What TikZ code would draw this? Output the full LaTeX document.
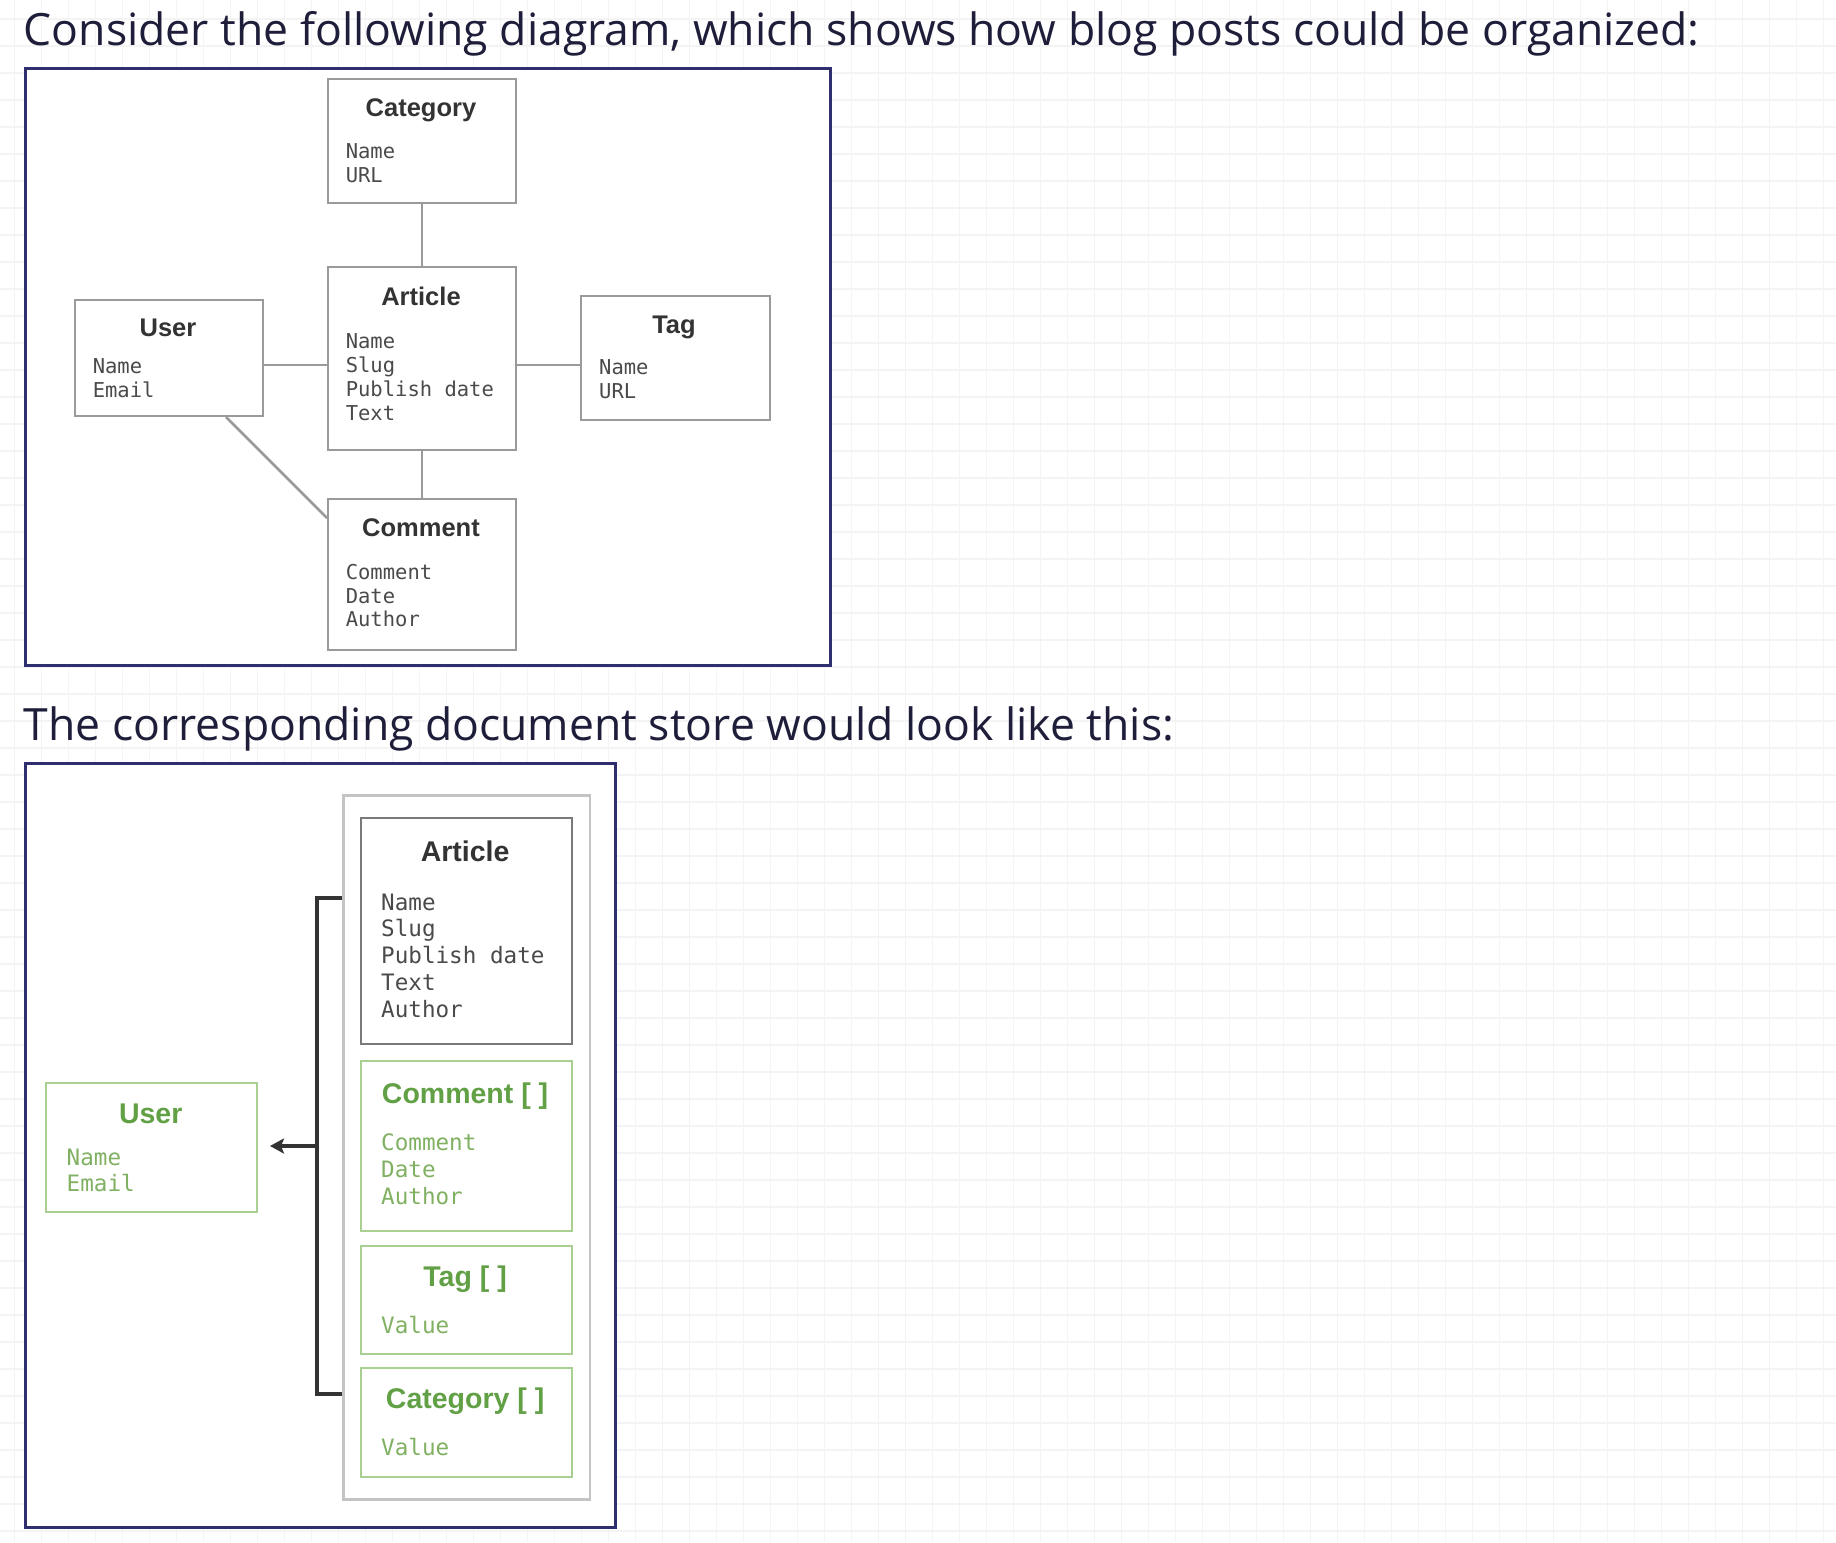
\documentclass[tikz,border=0pt]{standalone}
\usepackage{fontspec}
\setmainfont{Open Sans}
\newfontfamily\headfont{Open Sans}
\newfontfamily\boxfont{Liberation Sans}
\newfontfamily\fieldfont{DejaVu Sans Mono}
\usetikzlibrary{arrows.meta}
\definecolor{navy}{HTML}{2F2E6E}
\definecolor{headtext}{HTML}{1E1D3A}
\definecolor{erline}{HTML}{9A9A9A}
\definecolor{erline2}{HTML}{7A7A7A}
\definecolor{ertitlec}{HTML}{333333}
\definecolor{erfieldc}{HTML}{4A4A4A}
\definecolor{gtitle}{HTML}{62A045}
\definecolor{gfield}{HTML}{80B062}
\definecolor{gline}{HTML}{A9D090}
\definecolor{contline}{HTML}{C4C4C4}
\definecolor{gridc}{HTML}{F4F4F4}
\definecolor{bracketc}{HTML}{333333}
\begin{document}
\begin{tikzpicture}[x=1pt,y=-1pt,
  heading/.style={font=\headfont\fontsize{44.5}{50}\selectfont, text=headtext, anchor=base west, inner sep=0pt},
  frame/.style={draw=navy, line width=3pt, fill=white, anchor=north west, inner sep=0pt},
  erbox/.style={draw=erline, line width=2pt, fill=white, anchor=north west, inner sep=0pt},
  erlink/.style={draw=erline, line width=2.5pt},
  ertitle/.style={font=\boxfont\bfseries\fontsize{25.5}{30}\selectfont, text=ertitlec, anchor=base, inner sep=0pt},
  erfield/.style={font=\fieldfont\fontsize{20.5}{24}\selectfont, text=erfieldc, anchor=base west, inner sep=0pt},
  contbox/.style={draw=contline, line width=2.5pt, fill=white, anchor=north west, inner sep=0pt},
  docbox/.style={draw=erline2, line width=2pt, fill=white, anchor=north west, inner sep=0pt},
  gbox/.style={draw=gline, line width=2pt, fill=white, anchor=north west, inner sep=0pt},
  doctitle/.style={font=\boxfont\bfseries\fontsize{28.5}{34}\selectfont, text=ertitlec, anchor=base, inner sep=0pt},
  docfield/.style={font=\fieldfont\fontsize{22.6}{26}\selectfont, text=erfieldc, anchor=base west, inner sep=0pt},
  gtitlest/.style={doctitle, text=gtitle},
  gfieldst/.style={docfield, text=gfield},
  bracket/.style={draw=bracketc, line width=4pt},
]
\useasboundingbox (0,0) rectangle (1836,1542);
\fill[white] (0,0) rectangle (1836,1542);
% background grid
\foreach \i in {0,...,67} \draw[gridc, line width=1.2pt] ({14.3+27*\i},0) -- ({14.3+27*\i},1542);
\foreach \j in {0,...,57} \draw[gridc, line width=1.2pt] (0,{19+27*\j}) -- (1836,{19+27*\j});

% headings
\node[heading] (h1) at (23.7,45) {Consider the following diagram, which shows how blog posts could be organized:};
\node[heading] (h2) at (23.7,740.7) {The corresponding document store would look like this:};

% ===== top diagram =====
\node[frame, minimum width=805pt, minimum height=596.5pt] (frame1) at (23.5,67) {};

\node[erbox, minimum width=188pt, minimum height=124pt] (cat) at (327,78) {};
\node[erbox, minimum width=188pt, minimum height=183pt] (art) at (327,266) {};
\node[erbox, minimum width=188pt, minimum height=116pt] (user) at (74,299) {};
\node[erbox, minimum width=188.5pt, minimum height=124pt] (tag) at (580,295) {};
\node[erbox, minimum width=188pt, minimum height=151pt] (com) at (327,498) {};

\draw[erlink] (cat.south) -- (art.north);
\draw[erlink] (art.south) -- (com.north);
\draw[erlink] ([yshift=-7pt]user.east) -- ([yshift=-7pt]user.east -| art.west);
\draw[erlink] ([yshift=-6.5pt]art.east) -- ([yshift=-6.5pt]art.east -| tag.west);
\draw[erlink] ([xshift=57pt]user.south) -- ([yshift=56.5pt]com.west);

\node[ertitle] (catT) at (421,116) {Category};
\foreach \t [count=\i from 0] in {Name,URL}
  \node[erfield] (catF\i) at (345.6,{158+24*\i}) {\t};
\node[ertitle] (artT) at (421,305) {Article};
\foreach \t [count=\i from 0] in {Name,Slug,Publish date,Text}
  \node[erfield] (artF\i) at (345.6,{348.3+24*\i}) {\t};
\node[ertitle] (userT) at (168,336.7) {User};
\foreach \t [count=\i from 0] in {Name,Email}
  \node[erfield] (userF\i) at (92.6,{373.3+24*\i}) {\t};
\node[ertitle] (tagT) at (674,333.3) {Tag};
\foreach \t [count=\i from 0] in {Name,URL}
  \node[erfield] (tagF\i) at (599,{374.3+24*\i}) {\t};
\node[ertitle] (comT) at (421,536.7) {Comment};
\foreach \t [count=\i from 0] in {Comment,Date,Author}
  \node[erfield] (comF\i) at (345.6,{579.3+23.7*\i}) {\t};

% ===== bottom diagram =====
\node[frame, minimum width=590.5pt, minimum height=764pt] (frame2) at (23.5,762) {};
\node[contbox, minimum width=246.5pt, minimum height=704pt] (cont) at (342,794) {};

\node[docbox, minimum width=211pt, minimum height=225.7pt] (art2) at (359.6,817) {};
\node[gbox, minimum width=211pt, minimum height=170pt] (com2) at (359.6,1060) {};
\node[gbox, minimum width=211pt, minimum height=108pt] (tag2) at (359.6,1245) {};
\node[gbox, minimum width=211pt, minimum height=109pt] (cat2) at (359.6,1367) {};
\node[gbox, minimum width=210.7pt, minimum height=129pt] (user2) at (45.3,1082) {};

\node[doctitle] (art2T) at (465.1,861.7) {Article};
\foreach \t [count=\i from 0] in {Name,Slug,Publish date,Text,Author}
  \node[docfield] (art2F\i) at (381,{910+26.8*\i}) {\t};
\node[gtitlest] (com2T) at (465.1,1103.3) {Comment [ ]};
\foreach \t [count=\i from 0] in {Comment,Date,Author}
  \node[gfieldst] (com2F\i) at (381,{1150.7+26.7*\i}) {\t};
\node[gtitlest] (tag2T) at (465.1,1286) {Tag [ ]};
\node[gfieldst] (tag2F0) at (381,1333.3) {Value};
\node[gtitlest] (cat2T) at (465.1,1408.3) {Category [ ]};
\node[gfieldst] (cat2F0) at (381,1455) {Value};
\node[gtitlest] (user2T) at (150.7,1123.3) {User};
\foreach \t [count=\i from 0] in {Name,Email}
  \node[gfieldst] (user2F\i) at (66.5,{1165+26.7*\i}) {\t};

% bracket and arrow
\coordinate (brk) at (317,1146);
\draw[bracket] (cont.west |- 0,898) -- (317,898) -- (317,1394) -- (cont.west |- 0,1394);
\draw[bracket, line width=3.5pt, -{Stealth[length=14pt,width=15pt,inset=3pt]}] (brk) -- ([xshift=12pt]user2.east |- brk);
\end{tikzpicture}
\end{document}
